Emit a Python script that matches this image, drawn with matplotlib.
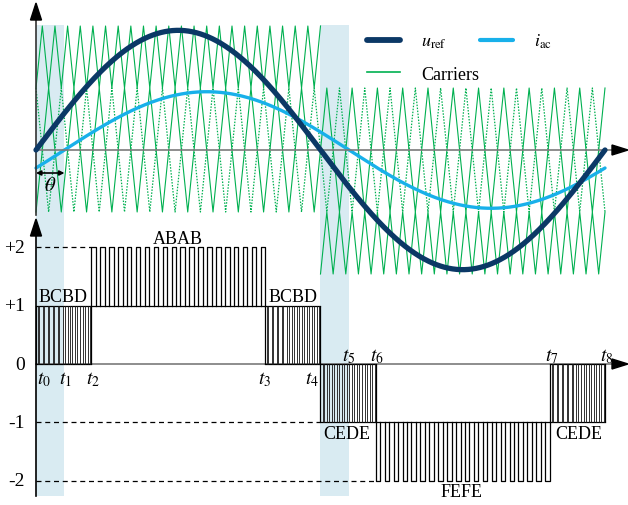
import numpy as np
import matplotlib
matplotlib.use('Agg')
import matplotlib.pyplot as plt
from matplotlib.patches import Rectangle, Polygon
from matplotlib.lines import Line2D

plt.rcParams['font.family'] = ['Liberation Serif', 'DejaVu Serif']
plt.rcParams['mathtext.fontset'] = 'stix'

# ---------------- data ----------------
u_ref_amp = 1.93          # reference amplitude (carrier-level units)
i_ac_amp = 0.94           # current amplitude (same units, schematic)
theta_deg = 18.0          # current phase lag
carrier_ratio = 22.5      # middle-band carrier periods per fundamental
t_deg = [0, 18, 35, 145, 180, 198, 215, 325, 360]
t_names = ['$t_0$', '$t_1$', '$t_2$', '$t_3$', '$t_4$', '$t_5$', '$t_6$', '$t_7$', '$t_8$']
level_values = [2, 1, 0, -1, -2]
level_names = ['+2', '+1', '0', '-1', '-2']
# output-voltage sections: start idx, end idx, inner level, outer level, label
sec_start = [0, 2, 3, 4, 6, 7]
sec_end = [2, 3, 4, 6, 7, 8]
sec_inner = [0, 1, 0, 0, -1, 0]
sec_outer = [1, 2, 1, -1, -2, -1]
sec_label = ['BCBD', 'ABAB', 'BCBD', 'CEDE', 'FEFE', 'CEDE']
# switching pattern inside the 0/+-1 blocks (duty of each pulse)
block_duty = [0.2, 0.22, 0.25, 0.28, 0.32, 0.38, 0.45, 0.5, 0.5, 0.5, 0.5]
# switching pattern of the +-1/+-2 blocks
outer_pulses = 20
outer_duty = 0.5

# ---------------- layout ----------------
W, H = 628, 506
PX0 = 36.0                # pixel x of t = 0
PXD = 569.0 / 360.0       # pixels per degree
TOP_Y0, TOP_UNIT = 151.0, 62.0
BOT_Y0, BOT_UNIT = 365.0, 58.3

C_UREF = '#0b3866'
C_IAC = '#18b0ea'
C_CAR = '#00b050'
C_SHADE = '#d9ebf2'
C_AXIS = '#7a7a7a'

fig = plt.figure(figsize=(W / 100, H / 100), dpi=100)


def make_ax(y0, unit):
    ax = fig.add_axes([0, 0, 1, 1])
    ax.set_xlim(-PX0 / PXD, (W - PX0) / PXD)
    ax.set_ylim((y0 - H) / unit, y0 / unit)
    ax.axis('off')
    ax.patch.set_alpha(0)
    return ax


ax_b = make_ax(BOT_Y0, BOT_UNIT)
ax_t = make_ax(TOP_Y0, TOP_UNIT)


def bx(px):
    return (px - PX0) / PXD


def by(py):
    return (BOT_Y0 - py) / BOT_UNIT


def ty(py):
    return (TOP_Y0 - py) / TOP_UNIT

# ---------------- shaded intervals ----------------
for a, b in [(t_deg[0], t_deg[1]), (t_deg[4], t_deg[5])]:
    ax_b.add_patch(Rectangle((a, by(497)), b - a, by(26) - by(497),
                             facecolor=C_SHADE, edgecolor='none', zorder=0))

# ---------------- carriers ----------------
Pc = 360.0 / carrier_ratio


def c_mid(x):
    f = np.mod(x / Pc, 1.0)
    return 1 - 4 * np.abs(f - 0.5)


xv = np.arange(0, 360 + 1e-9, Pc / 4)
ax_t.plot(xv, c_mid(xv), color=C_CAR, lw=0.8, zorder=2)
ax_t.plot(xv, -c_mid(xv), color=C_CAR, lw=0.9, ls=(0, (1.2, 1.2)), zorder=2)
xh1 = xv[xv <= 180 + 1e-9]
xh2 = xv[xv >= 180 - 1e-9]
ax_t.plot(xh1, 2 - np.abs(c_mid(xh1)), color=C_CAR, lw=0.8, zorder=2)
ax_t.plot(xh2, -2 + np.abs(c_mid(xh2)), color=C_CAR, lw=0.8, zorder=2)

# ---------------- reference and current ----------------
xs = np.linspace(0, 360, 721)
ax_t.plot(xs, u_ref_amp * np.sin(np.radians(xs)), color=C_UREF, lw=3.8,
          solid_capstyle='round', zorder=4)
ax_t.plot(xs, i_ac_amp * np.sin(np.radians(xs - theta_deg)), color=C_IAC, lw=2.4,
          solid_capstyle='round', zorder=3)

# ---------------- top axes arrows ----------------
ax_t.plot([0, bx(613)], [0, 0], color=C_AXIS, lw=1.2, zorder=3)
ax_t.plot([0, 0], [ty(20), ty(216)], color='#333333', lw=1.2, zorder=3)
ax_t.add_patch(Polygon([[bx(628), 0], [bx(612), ty(146)], [bx(612), ty(156)]],
                       closed=True, color='black', zorder=5))
ax_t.add_patch(Polygon([[0, ty(4)], [bx(30.5), ty(21)], [bx(41.5), ty(21)]],
                       closed=True, color='black', zorder=5))
# theta marker
ax_t.annotate('', xy=(theta_deg, ty(174)), xytext=(0, ty(174)),
              arrowprops=dict(arrowstyle='<|-|>', color='black', lw=1.2,
                              mutation_scale=7, shrinkA=0, shrinkB=0))
ax_t.text(theta_deg / 2, ty(187), r'$\theta$', fontsize=15, ha='center', va='center')

# legend
handles = [Line2D([], [], color=C_UREF, lw=4.2, solid_capstyle='round'),
           Line2D([], [], color=C_CAR, lw=1.2),
           Line2D([], [], color=C_IAC, lw=3.0, solid_capstyle='round')]
labels = [r'$u_{\mathrm{ref}}$', 'Carriers', r'$i_{\mathrm{ac}}$']
fig.legend(handles, labels, loc='upper left', bbox_to_anchor=(367 / W, 1 - 33 / H),
           ncol=2, frameon=False, fontsize=13, handlelength=1.85, handletextpad=1.15,
           columnspacing=0.05, labelspacing=0.85, borderpad=0, borderaxespad=0)

# ---------------- bottom axes ----------------
ax_b.plot([0, bx(613)], [0, 0], color=C_AXIS, lw=1.2, zorder=3)
ax_b.plot([0, 0], [by(236), by(497)], color='black', lw=1.2, zorder=3)
ax_b.add_patch(Polygon([[bx(628), 0], [bx(612), by(360)], [bx(612), by(370)]],
                       closed=True, color='black', zorder=5))
ax_b.add_patch(Polygon([[0, by(220)], [bx(30.5), by(237)], [bx(41.5), by(237)]],
                       closed=True, color='black', zorder=5))

for v, s in zip(level_values, level_names):
    ax_b.text(bx(25), v, s, fontsize=14, ha='right', va='center')

# dashed guide lines
ax_b.plot([0, t_deg[2]], [2, 2], color='black', lw=0.9, ls=(0, (4, 3)))
ax_b.plot([0, t_deg[4]], [-1, -1], color='black', lw=0.9, ls=(0, (4, 3)))
ax_b.plot([0, t_deg[6]], [-2, -2], color='black', lw=0.9, ls=(0, (4, 3)))

# PWM output pattern
LW_P = 0.9
for i in range(len(sec_start)):
    a, b = t_deg[sec_start[i]], t_deg[sec_end[i]]
    lo, hi = sec_inner[i], sec_outer[i]
    ax_b.plot([a, b], [lo, lo], color='black', lw=LW_P, zorder=4)
    if lo == 0:
        # block: both levels continuous, switching edges inside
        ax_b.plot([a, b], [hi, hi], color='black', lw=LW_P, zorder=4)
        ax_b.vlines([a, b], lo, hi, colors='black', lw=LW_P, zorder=4)
        n = len(block_duty)
        w = (b - a) / n
        edges = []
        for k, d in enumerate(block_duty):
            c = a + (k + 0.5) * w
            edges += [c - d * w / 2, c + d * w / 2]
        ax_b.vlines(edges, lo, hi, colors='#222222', lw=0.65, zorder=4)
    else:
        n, d = outer_pulses, outer_duty
        w = (b - a) / (n - 1 + d)
        for k in range(n):
            x0 = a + k * w
            x1 = x0 + d * w
            ax_b.plot([x0, x0, x1, x1], [lo, hi, hi, lo], color='black', lw=LW_P, zorder=4)

# section labels
lab_pos = [(63, 297), (178, 240), (293, 297), (347, 435), (462, 493), (579, 435)]
for (px, py), s in zip(lab_pos, sec_label):
    ax_b.text(bx(px), by(py), s, fontsize=13, ha='center', va='center')

t_pos = [(44, 380), (65, 380), (93, 380), (265, 380), (312, 380),
         (349, 357), (377, 357), (552, 357), (607, 357)]
for (px, py), s in zip(t_pos, t_names):
    ax_b.text(bx(px), by(py), s, fontsize=14, ha='center', va='center')

fig.savefig('out.png', dpi=100)
